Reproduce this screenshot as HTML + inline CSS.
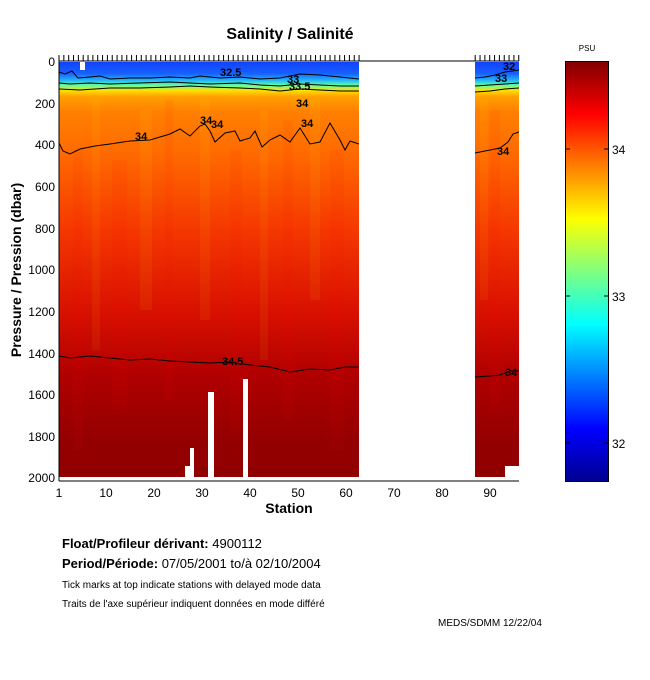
<!DOCTYPE html>
<html><head><meta charset="utf-8"><style>
body{margin:0;background:#fff}
svg{display:block;font-family:"Liberation Sans",sans-serif}
</style></head><body>
<svg width="650" height="680" viewBox="0 0 650 680" xmlns="http://www.w3.org/2000/svg">
<defs>
<linearGradient id="f" gradientUnits="userSpaceOnUse" x1="0" y1="61" x2="0" y2="481">
<stop offset="0" stop-color="#1040ff"/>
<stop offset="0.03" stop-color="#1860ff"/>
<stop offset="0.045" stop-color="#20b0ff"/>
<stop offset="0.058" stop-color="#60ffa0"/>
<stop offset="0.07" stop-color="#ffe000"/>
<stop offset="0.085" stop-color="#ffa000"/>
<stop offset="0.12" stop-color="#ff8000"/>
<stop offset="0.22" stop-color="#ff6a00"/>
<stop offset="0.4" stop-color="#f53800"/>
<stop offset="0.6" stop-color="#d81000"/>
<stop offset="0.75" stop-color="#b00000"/>
<stop offset="0.9" stop-color="#940000"/>
<stop offset="1" stop-color="#900000"/>
</linearGradient>
<linearGradient id="jet" x1="0" y1="1" x2="0" y2="0">
<stop offset="0" stop-color="#00008f"/>
<stop offset="0.125" stop-color="#0000ff"/>
<stop offset="0.375" stop-color="#00ffff"/>
<stop offset="0.625" stop-color="#ffff00"/>
<stop offset="0.875" stop-color="#ff0000"/>
<stop offset="1" stop-color="#800000"/>
</linearGradient>
</defs>
<text x="290" y="39" font-size="16" font-weight="bold" text-anchor="middle">Salinity / Salinité</text>
<rect x="59" y="62" width="300" height="416" fill="url(#f)"/>
<rect x="475" y="62" width="44" height="416" fill="url(#f)"/>
<g opacity="0.06" fill="#ff0000">
<rect x="73" y="150" width="10" height="300"/><rect x="112" y="160" width="15" height="250"/><rect x="165" y="100" width="8" height="300"/><rect x="230" y="150" width="12" height="280"/><rect x="283" y="120" width="10" height="300"/><rect x="330" y="150" width="14" height="300"/><rect x="490" y="110" width="10" height="300"/>
</g>
<g opacity="0.06" fill="#ffff00">
<rect x="92" y="100" width="8" height="250"/><rect x="140" y="110" width="12" height="200"/><rect x="200" y="100" width="10" height="220"/><rect x="260" y="110" width="8" height="250"/><rect x="310" y="100" width="10" height="200"/><rect x="480" y="100" width="8" height="200"/>
</g>
<rect x="80" y="62" width="5" height="8" fill="#fff"/>
<rect x="190" y="448" width="4" height="33" fill="#fff"/>
<rect x="208" y="392" width="6" height="89" fill="#fff"/>
<rect x="243" y="379" width="5" height="102" fill="#fff"/>
<rect x="505" y="466" width="15" height="15" fill="#fff"/>
<rect x="185" y="466" width="5" height="15" fill="#fff"/>
<rect x="59" y="477" width="460" height="4" fill="#fff"/>
<g fill="none" stroke="#000" stroke-width="1">
<polyline points="59,72 65,74 72,71 78,78 90,77 100,76 110,79 130,78 150,78 170,77 190,78 200,76 220,78 240,77 260,79 280,78 300,74 320,75 340,77 359,79"/>
<polyline points="59,83 70,84 90,83 110,84 140,83 170,82 190,83 210,84 240,83 260,85 280,86 300,84 320,85 340,86 359,86"/>
<polyline points="59,89 80,90 110,88 140,88 170,87 190,86 210,87 240,88 260,89 280,91 300,89 320,90 340,91 359,91"/>
<polyline points="59,143 63,151 70,154 80,149 95,146 110,144 130,141 150,140 160,137 170,134 180,129 190,136 200,126 205,124 210,131 215,142 225,133 235,131 240,141 250,138 255,131 262,147 270,140 280,135 290,142 300,128 310,144 320,142 330,123 340,140 345,150 350,141 359,144"/>
<polyline points="475,153 485,151 500,148 508,142 513,134 519,132"/>
<polyline points="59,356 70,358 90,356 110,358 130,360 150,359 170,361 190,362 210,363 230,362 250,365 270,367 290,372 310,369 330,370 345,367 359,367"/>
<polyline points="475,377 490,376 500,375 510,371 519,371"/>
<polyline points="475,78 485,77 495,75 505,72 519,70"/>
<polyline points="475,86 490,85 505,84 519,83"/>
<polyline points="475,92 490,91 505,89 519,88"/>
</g>
<g font-size="11" font-weight="bold" fill="#000">
<text x="220" y="76">32.5</text>
<text x="287" y="83">33</text>
<text x="289" y="90">33.5</text>
<text x="296" y="107">34</text>
<text x="301" y="127">34</text>
<text x="200" y="124">34</text>
<text x="211" y="128">34</text>
<text x="135" y="140">34</text>
<text x="222" y="365">34.5</text>
<text x="497" y="155">34</text>
<text x="495" y="82">33</text>
<text x="503" y="70">32</text>
<text x="505" y="376">34</text>
</g>
<line x1="59" y1="61" x2="519" y2="61" stroke="#000"/>
<line x1="59" y1="61" x2="59" y2="481" stroke="#000"/>
<line x1="59" y1="481" x2="519" y2="481" stroke="#000"/>
<line x1="58.5" y1="58" x2="360" y2="58" stroke="#000" stroke-width="6" stroke-dasharray="1 3.84"/>
<line x1="474.7" y1="58" x2="520" y2="58" stroke="#000" stroke-width="6" stroke-dasharray="1 3.84"/>
<g font-size="12" text-anchor="end">
<text x="55" y="66">0</text><text x="55" y="108">200</text><text x="55" y="149">400</text><text x="55" y="191">600</text><text x="55" y="233">800</text><text x="55" y="274">1000</text><text x="55" y="316">1200</text><text x="55" y="358">1400</text><text x="55" y="399">1600</text><text x="55" y="441">1800</text><text x="55" y="482">2000</text>
</g>
<g font-size="12" text-anchor="middle">
<text x="59" y="497">1</text><text x="106" y="497">10</text><text x="154" y="497">20</text><text x="202" y="497">30</text><text x="250" y="497">40</text><text x="298" y="497">50</text><text x="346" y="497">60</text><text x="394" y="497">70</text><text x="442" y="497">80</text><text x="490" y="497">90</text>
</g>
<text x="289" y="513" font-size="14" font-weight="bold" text-anchor="middle">Station</text>
<text transform="translate(21,270) rotate(-90)" font-size="14" font-weight="bold" text-anchor="middle">Pressure / Pression (dbar)</text>
<text x="587" y="51" font-size="8" text-anchor="middle">PSU</text>
<rect x="565.5" y="61.5" width="43" height="420" fill="url(#jet)" stroke="#000"/>
<g stroke="#000"><line x1="566" y1="149" x2="570" y2="149"/><line x1="604" y1="149" x2="608" y2="149"/><line x1="566" y1="296" x2="570" y2="296"/><line x1="604" y1="296" x2="608" y2="296"/><line x1="566" y1="443" x2="570" y2="443"/><line x1="604" y1="443" x2="608" y2="443"/></g>
<g font-size="12"><text x="612" y="154">34</text><text x="612" y="301">33</text><text x="612" y="448">32</text></g>
<text x="62" y="548" font-size="13"><tspan font-weight="bold">Float/Profileur dérivant:</tspan> 4900112</text>
<text x="62" y="568" font-size="13"><tspan font-weight="bold">Period/Période:</tspan> 07/05/2001  to/à  02/10/2004</text>
<text x="62" y="588" font-size="10">Tick marks at top indicate stations with delayed mode data</text>
<text x="62" y="607" font-size="10">Traits de l'axe supérieur indiquent données en mode différé</text>
<text x="438" y="626" font-size="10">MEDS/SDMM  12/22/04</text>
</svg>
</body></html>
